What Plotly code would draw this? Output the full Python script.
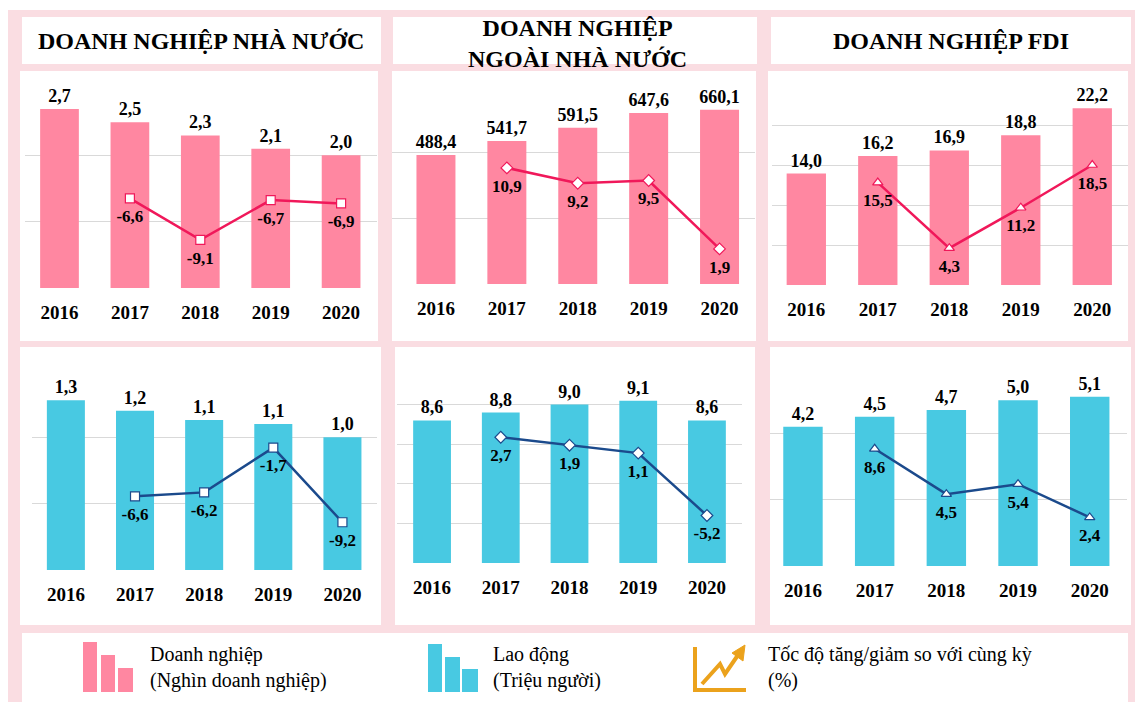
import plotly.graph_objects as go

W, H = 1135, 702

# ---------------- data ----------------
years = ["2016", "2017", "2018", "2019", "2020"]
line_years = years[1:]

# Doanh nghiệp (nghìn doanh nghiệp)
dn_nha_nuoc = [2.7, 2.5, 2.3, 2.1, 2.0]
dn_ngoai_nha_nuoc = [488.4, 541.7, 591.5, 647.6, 660.1]
dn_fdi = [14.0, 16.2, 16.9, 18.8, 22.2]
# Tốc độ tăng/giảm doanh nghiệp (%)
dn_nha_nuoc_tang = [-6.6, -9.1, -6.7, -6.9]
dn_ngoai_nha_nuoc_tang = [10.9, 9.2, 9.5, 1.9]
dn_fdi_tang = [15.5, 4.3, 11.2, 18.5]

# Lao động (triệu người)
ld_nha_nuoc = [1.28, 1.2, 1.13, 1.1, 1.0]
ld_ngoai_nha_nuoc = [8.6, 8.8, 9.0, 9.1, 8.6]
ld_fdi = [4.2, 4.5, 4.7, 5.0, 5.1]
# Tốc độ tăng/giảm lao động (%)
ld_nha_nuoc_tang = [-6.6, -6.2, -1.7, -9.2]
ld_ngoai_nha_nuoc_tang = [2.7, 1.9, 1.1, -5.2]
ld_fdi_tang = [8.6, 4.5, 5.4, 2.4]

titles = ["DOANH NGHIỆP NHÀ NƯỚC", "DOANH NGHIỆP<br>NGOÀI NHÀ NƯỚC", "DOANH NGHIỆP FDI"]
legend_texts = ["Doanh nghiệp<br>(Nghìn doanh nghiệp)",
                "Lao động<br>(Triệu người)",
                "Tốc độ tăng/giảm so với cùng kỳ<br>(%)"]

# ---------------- style ----------------
FONT = "Liberation Serif"
PINK_BAR = "#FF87A1"
CYAN_BAR = "#48C9E2"
PINK_LINE = "#F0185A"
BLUE_LINE = "#1B4A8C"
ORANGE = "#EBA21C"
BG_PINK = "#FADDE2"
GRID = "#D9D9D9"


def fx(p):
    return p / W


def fy(p):
    return 1 - p / H


def fmt(v):
    return f"{v:.1f}".replace(".", ",")


panels = [
    dict(bars=dn_nha_nuoc, growth=dn_nha_nuoc_tang, bc=PINK_BAR, lc=PINK_LINE, sym="square",
         px=(25, 377), py=(89, 288), xr=[-0.49, 4.51], yr=[0, 3], dt=1, y2r=[-12, 0]),
    dict(bars=dn_ngoai_nha_nuoc, growth=dn_ngoai_nha_nuoc_tang, bc=PINK_BAR, lc=PINK_LINE, sym="diamond",
         px=(392, 755), py=(86, 284), xr=[-0.62, 4.5], yr=[0, 750], dt=250, y2r=[-2, 20]),
    dict(bars=dn_fdi, growth=dn_fdi_tang, bc=PINK_BAR, lc=PINK_LINE, sym="triangle-up",
         px=(772, 1128), py=(86, 285), xr=[-0.48, 4.5], yr=[0, 25], dt=5, y2r=[-2, 32]),
    dict(bars=ld_nha_nuoc, growth=ld_nha_nuoc_tang, bc=CYAN_BAR, lc=BLUE_LINE, sym="square",
         px=(32, 377), py=(371, 570), xr=[-0.49, 4.5], yr=[0, 1.5], dt=0.5, y2r=[-14, 6]),
    dict(bars=ld_ngoai_nha_nuoc, growth=ld_ngoai_nha_nuoc_tang, bc=CYAN_BAR, lc=BLUE_LINE, sym="diamond",
         px=(397, 742), py=(365, 563), xr=[-0.51, 4.51], yr=[5, 10], dt=1, y2r=[-10, 10]),
    dict(bars=ld_fdi, growth=ld_fdi_tang, bc=CYAN_BAR, lc=BLUE_LINE, sym="triangle-up",
         px=(770, 1127), py=(367, 566), xr=[-0.46, 4.52], yr=[0, 6], dt=2, y2r=[-2, 16]),
]

fig = go.Figure()
layout = {}

for i, p in enumerate(panels, start=1):
    xid = "x" if i == 1 else f"x{i}"
    y1n, y2n = 2 * i - 1, 2 * i
    y1id = "y" if y1n == 1 else f"y{y1n}"
    y2id = f"y{y2n}"
    xkey = "xaxis" if i == 1 else f"xaxis{i}"
    y1key = "yaxis" if y1n == 1 else f"yaxis{y1n}"
    y2key = f"yaxis{y2n}"

    fig.add_trace(go.Bar(
        x=years, y=p["bars"], xaxis=xid, yaxis=y1id,
        marker=dict(color=p["bc"], line=dict(width=0)), width=0.55,
        text=[fmt(v) for v in p["bars"]], textposition="outside",
        constraintext="none", cliponaxis=(p["yr"][0] > 0),
        textfont=dict(family=FONT, size=18, color="black", weight="bold"),
        showlegend=False, hoverinfo="skip",
    ))
    fig.add_trace(go.Scatter(
        x=line_years, y=p["growth"], xaxis=xid, yaxis=y2id,
        mode="lines+markers",
        line=dict(color=p["lc"], width=2.5),
        marker=dict(symbol=p["sym"], size=9, color="white", line=dict(color=p["lc"], width=1.2)),
        cliponaxis=False, showlegend=False, hoverinfo="skip",
    ))
    # growth labels (placed under the markers)
    fig.add_trace(go.Scatter(
        x=line_years, y=p["growth"], xaxis=xid, yaxis=y2id,
        mode="markers+text",
        marker=dict(size=16, color="rgba(0,0,0,0)"),
        text=[fmt(v) for v in p["growth"]], textposition="bottom center",
        textfont=dict(family=FONT, size=17, color="black", weight="bold"),
        cliponaxis=False, showlegend=False, hoverinfo="skip",
    ))

    layout[xkey] = dict(
        domain=[fx(p["px"][0]), fx(p["px"][1])], anchor=y1id, type="category",
        range=p["xr"], showgrid=False, zeroline=False, showline=False,
        ticks="outside", ticklen=7, tickcolor="rgba(0,0,0,0)",
        tickfont=dict(family=FONT, size=19, color="black", weight="bold"),
        fixedrange=True,
    )
    layout[y1key] = dict(
        domain=[fy(p["py"][1]), fy(p["py"][0])], anchor=xid, range=p["yr"],
        dtick=p["dt"], tick0=0, showgrid=True, gridcolor=GRID, gridwidth=1,
        zeroline=False, showline=False, showticklabels=False, ticks="",
    )
    layout[y2key] = dict(
        overlaying=y1id, anchor=xid, range=p["y2r"], visible=False,
        showgrid=False, zeroline=False,
    )

# ---------------- background boxes ----------------
shapes = [dict(type="rect", xref="paper", yref="paper", x0=fx(8), x1=fx(1135), y0=fy(702), y1=fy(10),
               fillcolor=BG_PINK, line=dict(width=0), layer="below")]
white_boxes = [
    (22, 381, 17, 64), (393, 757, 17, 64), (771, 1131, 17, 64),
    (20, 378, 71, 341), (392, 756, 71, 341), (768, 1128, 71, 341),
    (20, 381, 347, 625), (395, 755, 347, 625), (770, 1131, 347, 625),
    (22, 1128, 633, 702),
]
for x0, x1, y0, y1 in white_boxes:
    shapes.append(dict(type="rect", xref="paper", yref="paper", x0=fx(x0), x1=fx(x1), y0=fy(y1), y1=fy(y0),
                       fillcolor="white", line=dict(width=0), layer="below"))

# legend icons
def icon_bars(x0s, color):
    out = []
    for (a, b, top) in x0s:
        out.append(dict(type="rect", xref="paper", yref="paper", x0=fx(a), x1=fx(b), y0=fy(692), y1=fy(top),
                        fillcolor=color, line=dict(width=0)))
    return out

shapes += icon_bars([(83, 97, 642), (101, 115, 655), (118, 133, 668)], PINK_BAR)
shapes += icon_bars([(428, 442, 644), (445, 460, 657), (462, 478, 669)], CYAN_BAR)
# orange trend icon: axis L + zigzag arrow
shapes.append(dict(type="path", xref="paper", yref="paper",
                   path=f"M {fx(695)},{fy(647)} L {fx(695)},{fy(690)} L {fx(746)},{fy(690)}",
                   line=dict(color=ORANGE, width=4)))
shapes.append(dict(type="path", xref="paper", yref="paper",
                   path=(f"M {fx(702)},{fy(684)} L {fx(720)},{fy(664)} L {fx(725)},{fy(674)} "
                         f"L {fx(738)},{fy(655)}"),
                   line=dict(color=ORANGE, width=4)))
shapes.append(dict(type="path", xref="paper", yref="paper",
                   path=(f"M {fx(732)},{fy(653)} L {fx(745)},{fy(645)} L {fx(743)},{fy(661)} Z"),
                   fillcolor=ORANGE, line=dict(color=ORANGE, width=1)))

# ---------------- annotations ----------------
annotations = []
title_pos = [(201.5, 41), (577, 43), (951, 41)]
for t, (cx, cy) in zip(titles, title_pos):
    annotations.append(dict(xref="paper", yref="paper", x=fx(cx), y=fy(cy), text=t, showarrow=False,
                            xanchor="center", yanchor="middle",
                            font=dict(family=FONT, size=24, color="black", weight="bold")))
legend_pos = [148, 491, 766]
for t, lx in zip(legend_texts, legend_pos):
    annotations.append(dict(xref="paper", yref="paper", x=fx(lx), y=fy(667), text=t, showarrow=False,
                            xanchor="left", yanchor="middle", align="left",
                            font=dict(family=FONT, size=20, color="black")))

fig.update_layout(
    width=W, height=H, margin=dict(l=0, r=0, t=0, b=0),
    paper_bgcolor="white", plot_bgcolor="white",
    barmode="overlay", showlegend=False,
    shapes=shapes, annotations=annotations,
    font=dict(family=FONT),
    **layout,
)

fig.write_html("out.html", config=dict(displayModeBar=False),
               post_script="document.body.style.margin='0';document.body.style.overflow='hidden';")
